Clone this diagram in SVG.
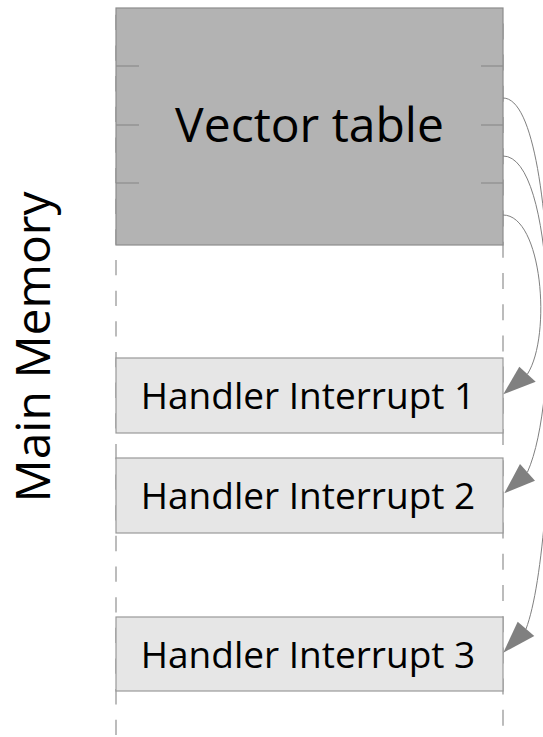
<svg xmlns="http://www.w3.org/2000/svg" width="543" height="737" viewBox="0 0 543 737">
  <style>
    .label { font-family: "Open Sans", "Noto Sans", "DejaVu Sans", sans-serif; fill: #000; text-anchor: middle; }
    .title { font-size: 48px; }
    .small { font-size: 37px; }
    .guide { fill: none; stroke: #a6a6a6; stroke-width: 1.5; }
    .table { fill: #b3b3b3; stroke: #8c8c8c; stroke-width: 1.2; }
    .handler { fill: #e6e6e6; stroke: #999; stroke-width: 1.2; }
    .tick { stroke: #8c8c8c; stroke-width: 1.2; }
    .link { fill: none; stroke: #808080; stroke-width: 1; }
    .head { fill: #808080; stroke: none; }
  </style>

  <rect width="543" height="737" fill="#fff"/>

  <!-- memory region borders, dashed -->
  <g id="memory-borders">
    <line class="guide" x1="116" y1="14.8" x2="116" y2="737" stroke-dasharray="15.3 15.35"/>
    <line class="guide" x1="503" y1="23.4" x2="503" y2="737" stroke-dasharray="16 15.2"/>
  </g>

  <text class="label title" transform="translate(50 347) rotate(-90)">Main Memory</text>

  <g id="vector-table">
    <rect class="table" x="116" y="8" width="387" height="237"/>
    <line class="tick" x1="116" y1="66" x2="139" y2="66"/>
    <line class="tick" x1="116" y1="125" x2="139" y2="125"/>
    <line class="tick" x1="116" y1="183" x2="139" y2="183"/>
    <line class="tick" x1="481" y1="66" x2="503" y2="66"/>
    <line class="tick" x1="481" y1="125" x2="503" y2="125"/>
    <line class="tick" x1="481" y1="183" x2="503" y2="183"/>
    <text class="label title" x="309.5" y="142">Vector table</text>
  </g>

  <g id="handler-1">
    <rect class="handler" x="116" y="358" width="387" height="75"/>
    <text class="label small" x="308" y="409">Handler Interrupt 1</text>
  </g>

  <g id="handler-2">
    <rect class="handler" x="116" y="458" width="387" height="75"/>
    <text class="label small" x="308" y="509">Handler Interrupt 2</text>
  </g>

  <g id="handler-3">
    <rect class="handler" x="116" y="617" width="387" height="74"/>
    <text class="label small" x="308" y="668">Handler Interrupt 3</text>
  </g>

  <!-- vector entries pointing to their handlers -->
  <g id="connectors">
    <path class="link" d="M503,215 C542,215 552,335 527.5,374"/>
    <polygon class="head" points="503.3,394.3 519.3,366.7 535.7,381.7"/>

    <path class="link" d="M503,156 C555,156 560,400 527.5,472"/>
    <polygon class="head" points="504.3,493.3 520,464 535,480.7"/>

    <path class="link" d="M503,98 C565,98 560,540 526,629"/>
    <polygon class="head" points="503.3,652.7 517.7,621.7 534.3,636"/>
  </g>
</svg>
